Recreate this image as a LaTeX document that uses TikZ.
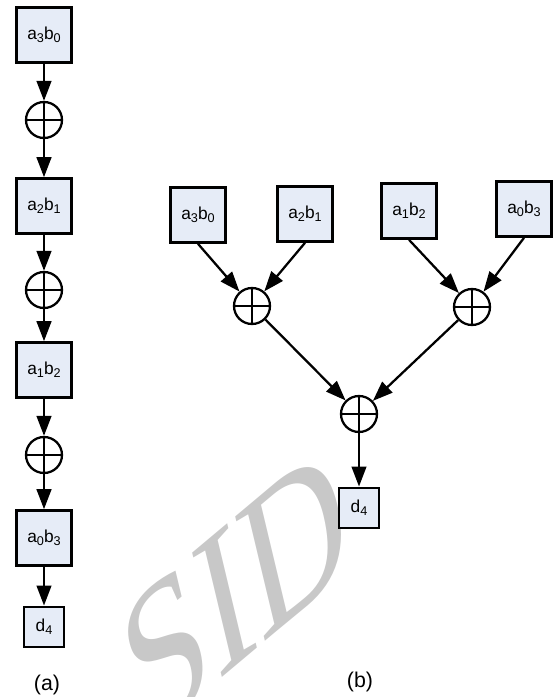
\documentclass[tikz,border=0pt]{standalone}
\usepackage{fontspec}
\setmainfont{Liberation Sans}
\newfontfamily\wmfont{Liberation Serif}
\usetikzlibrary{arrows.meta}
\definecolor{boxfill}{RGB}{230,236,247}
\definecolor{wmgray}{RGB}{200,200,200}
\newcommand{\sbx}[1]{\raisebox{-0.35ex}{\fontsize{9.5}{9.5}\selectfont #1}}
\begin{document}
\begin{tikzpicture}[x=0.75pt,y=-0.75pt,
  prod/.style={draw, line width=2.2pt, fill=boxfill, inner sep=0pt, minimum width=41pt, minimum height=41pt, font=\fontsize{13}{15}\selectfont},
  small/.style={prod, minimum width=30pt, minimum height=30pt},
  adder/.style={circle, draw, line width=1.7pt, inner sep=0pt, minimum size=27pt,
    path picture={\draw[line width=1.7pt] (path picture bounding box.north) -- (path picture bounding box.south) (path picture bounding box.west) -- (path picture bounding box.east);}},
  arr/.style={line width=1.7pt, -{Triangle[length=15pt,width=11pt]}},
  lab/.style={font=\fontsize{16}{18}\selectfont}]
\useasboundingbox (0,0) rectangle (553,697);
% watermark
\begin{scope}
\clip (0,0) rectangle (553,697);
\node[rotate=40, xslant=0.5, text=wmgray, inner sep=0pt, font=\wmfont\fontsize{131}{131}\selectfont] (wm) at (236,592) {SID};
\end{scope}
% (a) chain
\node[prod] (la) at (44,35) {a\sbx{3}b\sbx{0}};
\node[adder] (lc1) at (44,120) {};
\node[prod] (lb) at (44,206) {a\sbx{2}b\sbx{1}};
\node[adder] (lc2) at (44,290) {};
\node[prod] (lc) at (44,370) {a\sbx{1}b\sbx{2}};
\node[adder] (lc3) at (44,455) {};
\node[prod] (ld) at (44,538) {a\sbx{0}b\sbx{3}};
\node[small] (le) at (44,627) {d\sbx{4}};
\node[lab] (la-lab) at (47,685) {(a)};
\draw[arr] (la) -- (lc1);
\draw[arr] (lc1) -- (lb);
\draw[arr] (lb) -- (lc2);
\draw[arr] (lc2) -- (lc);
\draw[arr] (lc) -- (lc3);
\draw[arr] (lc3) -- (ld);
\draw[arr] (ld) -- (le);
% (b) tree
\node[prod] (ra) at (198,215) {a\sbx{3}b\sbx{0}};
\node[prod] (rb) at (305,214) {a\sbx{2}b\sbx{1}};
\node[prod] (rc) at (409,211) {a\sbx{1}b\sbx{2}};
\node[prod] (rd) at (524,209) {a\sbx{0}b\sbx{3}};
\node[adder] (rc1) at (252,306) {};
\node[adder] (rc2) at (472,307) {};
\node[adder] (rc3) at (359,414) {};
\node[small] (re) at (359,508) {d\sbx{4}};
\node[lab] (rb-lab) at (360,682) {(b)};
\draw[arr] (ra.south) -- (rc1);
\draw[arr] (rb.south) -- (rc1);
\draw[arr] (rc.south) -- (rc2);
\draw[arr] (rd.south) -- (rc2);
\draw[arr] (rc1) -- (rc3);
\draw[arr] (rc2) -- (rc3);
\draw[arr] (rc3) -- (re);
\end{tikzpicture}
\end{document}
